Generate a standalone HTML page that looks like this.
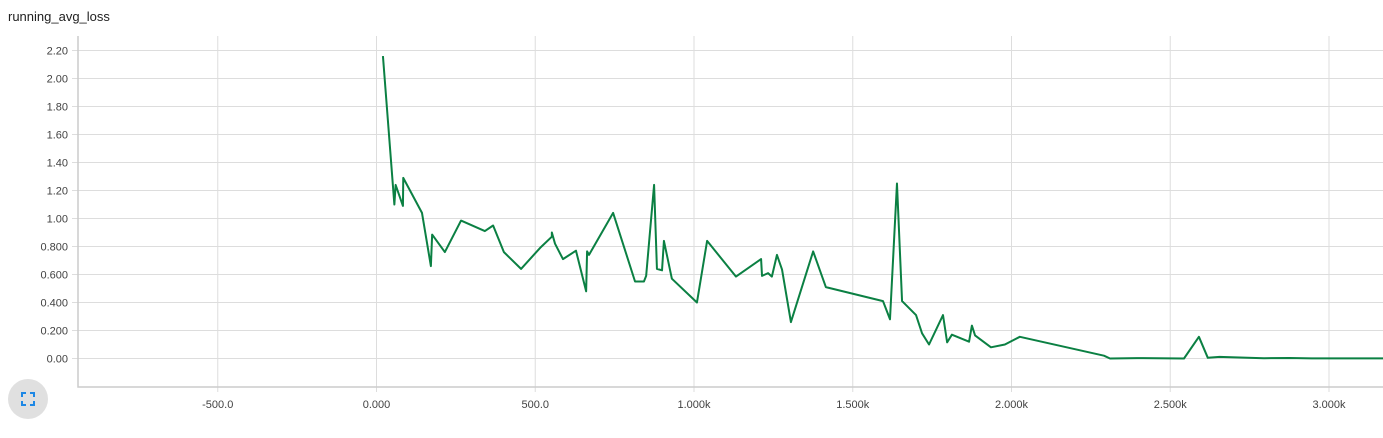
<!DOCTYPE html>
<html><head><meta charset="utf-8"><style>
body{margin:0;background:#fff;font-family:"Liberation Sans",sans-serif;}
#wrap{position:relative;width:1383px;height:438px;overflow:hidden}
.title{position:absolute;left:8px;top:9px;font-size:13px;color:#212121}
.fs{position:absolute;left:8px;top:379px;width:40px;height:40px;border-radius:50%;background:#e0e0e0}
</style></head><body>
<div id="wrap">
<div class="title">running_avg_loss</div>
<svg id="c" width="1383" height="438" style="position:absolute;left:0;top:0"></svg>
<div class="fs">
<svg width="40" height="40"><g stroke="#1e88e5" stroke-width="2" fill="none">
<path d="M14 18v-4h4M22 14h4v4M26 22v4h-4M18 26h-4v-4"/></g></svg></div>
</div>
<script>
const steps=[25,61,65,88,89,148,176,180,220,271,346,372,406,460,520,557,557,567,592,633,665,668,674,750,819,847,854,879,888,904,910,935,1014,1046,1137,1216,1219,1238,1250,1266,1282,1310,1380,1420,1600,1622,1644,1660,1704,1723,1745,1789,1802,1817,1871,1880,1890,1940,1984,2031,2296,2315,2400,2548,2595,2623,2660,2800,2880,2950,3200];
const losses=[2.16,1.10,1.24,1.09,1.29,1.04,0.66,0.885,0.76,0.985,0.91,0.95,0.76,0.64,0.79,0.87,0.90,0.82,0.71,0.77,0.48,0.765,0.74,1.04,0.55,0.55,0.59,1.24,0.64,0.63,0.84,0.57,0.40,0.84,0.585,0.71,0.59,0.61,0.585,0.74,0.635,0.26,0.765,0.51,0.41,0.28,1.25,0.41,0.31,0.18,0.10,0.31,0.115,0.17,0.12,0.235,0.165,0.08,0.10,0.155,0.02,0.0,0.003,0.0,0.155,0.005,0.012,0.002,0.004,0.001,0.001];
const yTicks=[0,0.2,0.4,0.6,0.8,1.0,1.2,1.4,1.6,1.8,2.0,2.2];
const yLabels=["0.00","0.200","0.400","0.600","0.800","1.00","1.20","1.40","1.60","1.80","2.00","2.20"];
const xTicks=[-500,0,500,1000,1500,2000,2500,3000];
const xLabels=["-500.0","0.000","500.0","1.000k","1.500k","2.000k","2.500k","3.000k"];
const NS="http://www.w3.org/2000/svg",svg=document.getElementById('c');
const L=78,R=1383,T=36,B=387;
const xs=v=>376.5+v*0.3175, ys=v=>358.5-v*140;
function mk(t,a,p){const e=document.createElementNS(NS,t);for(const k in a)e.setAttribute(k,a[k]);(p||svg).appendChild(e);return e;}
yTicks.forEach((v,i)=>{const y=ys(v);
const g=mk('line',{x1:72,x2:R,y1:y,y2:y,stroke:'#ddd','stroke-width':1});


const t=mk('text',{x:68,y:y+4,'text-anchor':'end','font-size':11,fill:'#424242','font-family':'Liberation Sans, sans-serif'});t.textContent=yLabels[i];

});
xTicks.forEach((v,i)=>{const x=xs(v);
const g=mk('line',{x1:x,x2:x,y1:T,y2:B+5,stroke:'#ddd','stroke-width':1});


const t=mk('text',{x:x,y:408,'text-anchor':'middle','font-size':11,fill:'#424242','font-family':'Liberation Sans, sans-serif'});t.textContent=xLabels[i];

});
const ax=mk('path',{d:`M${L} ${T}V${B}H${R}`,stroke:'#ccc','stroke-width':1.5,fill:'none'});


const ln=mk('polyline',{points:steps.map((s,i)=>(xs(s)-1.5)+','+ys(losses[i])).join(' '),fill:'none',stroke:'#0b8043','stroke-width':2,'stroke-linejoin':'round'});


</script></body></html>
